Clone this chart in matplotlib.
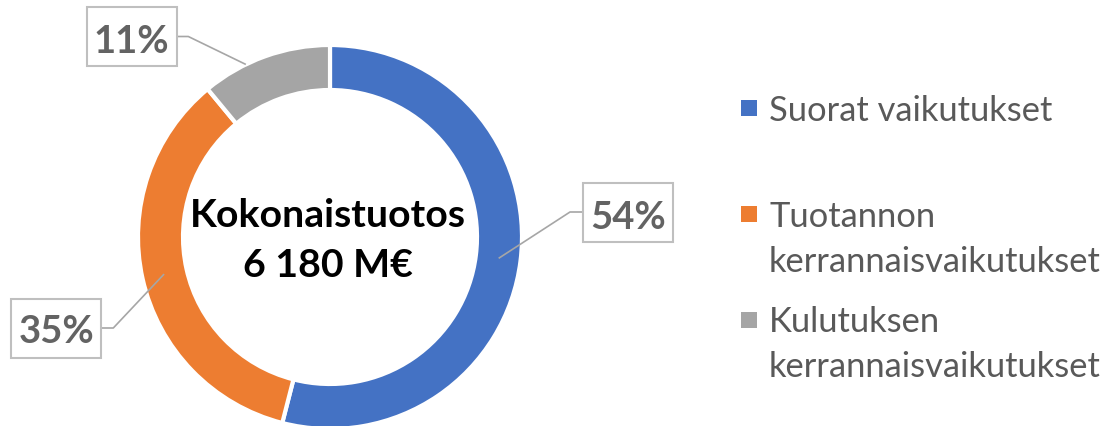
import matplotlib
matplotlib.use("Agg")
import matplotlib.pyplot as plt
from matplotlib.patches import Rectangle
import numpy as np

# ---- data ----
categories = ["Suorat vaikutukset",
              "Tuotannon\nkerrannaisvaikutukset",
              "Kulutuksen\nkerrannaisvaikutukset"]
shares = [54, 35, 11]
pct_labels = ["54%", "35%", "11%"]
center_title = "Kokonaistuotos"
center_value = "6 180 M€"

colors = ["#4472C4", "#ED7D31", "#A5A5A5"]
FONT = "Lato"
W, H = 1109, 427

def Y(y):  # image y (down) -> data y (up)
    return H - y

fig = plt.figure(figsize=(W / 100, H / 100), dpi=100)
ax = fig.add_axes([0, 0, 1, 1])

cx, cy = 330, 238
R_out, ring_w = 192, 45
wedges, _ = ax.pie(shares, colors=colors, startangle=90, counterclock=False,
                   radius=R_out, center=(cx, Y(cy)),
                   wedgeprops=dict(width=ring_w, edgecolor="white", linewidth=3))
ax.set_xlim(0, W)
ax.set_ylim(0, H)
ax.set_aspect("equal")
ax.axis("off")

# centre text
ax.text(328, Y(226.7), center_title, ha="center", va="baseline",
        fontsize=28.3, fontweight="bold", family=FONT, color="black")
ax.text(328, Y(276.7), center_value, ha="center", va="baseline",
        fontsize=28.3, fontweight="bold", family=FONT, color="black")

# data labels (layout in image pixels)
box_centers = [(627.7, 213.0), (56.3, 329.0), (131.7, 37.5)]
baselines = [229.3, 343.3, 52.7]
box_w, box_h = 90, 59
knees = [(570.0, 213.0), (113.3, 329.0), (188.3, 37.5)]
anchor_r = [170, 170, 192]
anchor_dang = [0, 0, 6.2]
for i, w in enumerate(wedges):
    bx, by = box_centers[i]
    ax.add_patch(Rectangle((bx - box_w / 2, Y(by + box_h / 2)), box_w, box_h,
                           facecolor="white", edgecolor="#BFBFBF", linewidth=1.5,
                           zorder=3))
    ax.text(bx, Y(baselines[i]), pct_labels[i], ha="center", va="baseline",
            fontsize=27.5, fontweight="bold", family=FONT, color="#636363",
            zorder=4)
    mid = np.deg2rad((w.theta1 + w.theta2) / 2 + anchor_dang[i])
    axp = cx + anchor_r[i] * np.cos(mid)
    ayp = Y(cy) + anchor_r[i] * np.sin(mid)
    edge_x = bx - box_w / 2 if knees[i][0] < bx else bx + box_w / 2
    kx, ky = knees[i]
    ax.plot([edge_x, kx, axp], [Y(ky), Y(ky), ayp], color="#A6A6A6",
            linewidth=1.2, zorder=2, solid_capstyle="butt")

# legend
sq_x, sq = 741, 16
sq_centers = [109, 214.7, 320.5]
text_x = 769
line_baselines = [[120.7], [226.7, 271.7], [331.7, 376.7]]
for i, cat in enumerate(categories):
    ax.add_patch(Rectangle((sq_x, Y(sq_centers[i] + sq / 2)), sq, sq,
                           facecolor=colors[i], edgecolor="none"))
    for line, b in zip(cat.split("\n"), line_baselines[i]):
        ax.text(text_x, Y(b), line, ha="left", va="baseline", fontsize=24.8,
                family=FONT, color="#595959")

fig.savefig("out.png", dpi=100)
